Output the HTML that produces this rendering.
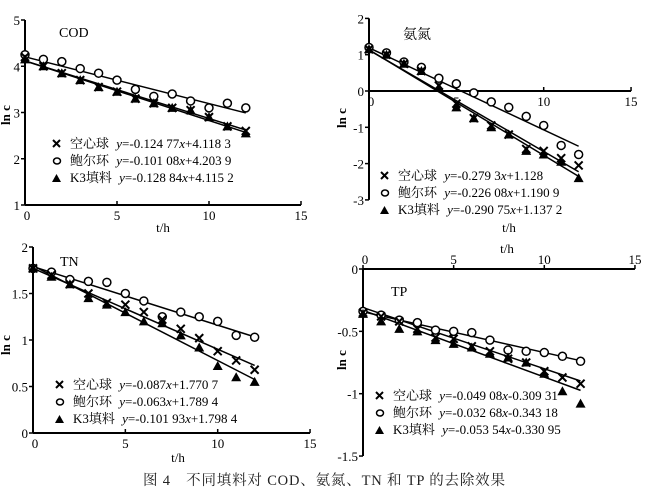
<!DOCTYPE html>
<html><head><meta charset="utf-8"><style>
html,body{margin:0;padding:0;background:#fff;}
svg{display:block;font-family:"Liberation Serif","Noto Serif CJK SC",serif;}
</style></head><body>
<svg id="s" width="645" height="495" viewBox="0 0 645 495" xmlns="http://www.w3.org/2000/svg">
<text x="324" y="485" font-size="14.5" text-anchor="middle" textLength="362" fill="#222">图 4　不同填料对 COD、氨氮、TN 和 TP 的去除效果</text>
</svg>
<script>
const S=document.getElementById('s');const NS='http://www.w3.org/2000/svg';
function el(t,a,txt){const e=document.createElementNS(NS,t);for(const k in a)e.setAttribute(k,a[k]);if(txt!==undefined)e.textContent=txt;S.appendChild(e);return e;}
function panel(p){
 const X=v=>p.x0+v*p.xs, Y=v=>p.yz-v*p.ys;
 el('line',{x1:p.x0,y1:Y(p.ymax),x2:p.x0,y2:Y(p.ymin),stroke:'#000','stroke-width':2});
 el('line',{x1:p.x0,y1:Y(p.xaxisAt),x2:X(15),y2:Y(p.xaxisAt),stroke:'#000','stroke-width':2});
 for(const t of p.yt){el('line',{x1:p.x0-4,y1:Y(t),x2:p.x0,y2:Y(t),stroke:'#000','stroke-width':1.5});
  el('text',{x:p.x0-5,y:Y(t)+5,'font-size':13,'text-anchor':'end'},String(t));}
 for(const t of [0,5,10,15]){const yy=Y(p.xaxisAt);
  el('line',{x1:X(t),y1:yy,x2:X(t),y2:yy-4,stroke:'#000','stroke-width':1.5});
  el('text',{x:X(t)+(t==0?2:0),y:p.top?yy-5:yy+15,'font-size':13,'text-anchor':'middle'},String(t));}
 for(const f of p.fits){el('line',{x1:X(0),y1:Y(f[1]),x2:X(12),y2:Y(f[0]*12+f[1]),stroke:'#000','stroke-width':1.5});}
 for(let i=0;i<13;i++){
  const x=X(i);
  let y=Y(p.o[i]);el('ellipse',{cx:x,cy:y,rx:4,ry:4,fill:'#fff',stroke:'#000','stroke-width':1.5});
  y=Y(p.t[i]);el('polygon',{points:`${x-5},${y+4} ${x+5},${y+4} ${x},${y-5}`,fill:'#000'});
  y=Y(p.c[i]);el('path',{d:`M${x-4},${y-4}L${x+4},${y+4}M${x-4},${y+4}L${x+4},${y-4}`,stroke:'#000','stroke-width':2});
 }
 el('text',{x:p.title[0],y:p.title[1],'font-size':14},p.title[2]);
 el('text',{x:p.tl[0],y:p.tl[1],'font-size':13,'text-anchor':'middle'},'t/h');
 el('text',{x:p.yl[0],y:p.yl[1],'font-size':13,'font-weight':'bold','text-anchor':'middle',transform:`rotate(-90 ${p.yl[0]} ${p.yl[1]})`},'ln c');
 const names=['空心球','鲍尔环','K3填料'];
 for(let k=0;k<3;k++){const lx=p.lg[0],ly=p.lg[1]+k*17;
  if(k==0)el('path',{d:`M${lx-3},${ly-8}L${lx+4},${ly-1}M${lx-3},${ly-1}L${lx+4},${ly-8}`,stroke:'#000','stroke-width':2});
  if(k==1)el('ellipse',{cx:lx+1,cy:ly-4,rx:3.5,ry:3,fill:'#fff',stroke:'#000','stroke-width':1.5});
  if(k==2)el('polygon',{points:`${lx-4},${ly} ${lx+5},${ly} ${lx+0.5},${ly-8}`,fill:'#000'});
  const t=el('text',{x:lx+14,y:ly,'font-size':13});
  t.innerHTML=`${names[k]}  <tspan font-style="italic" dx="4">y</tspan>=${p.eq[k][0]}<tspan font-style="italic">x</tspan>${p.eq[k][1]}`;
 }
}
panel({x0:25,xs:18.4,yz:251.25,ys:46.25,ymax:5,ymin:1,xaxisAt:1,yt:[1,2,3,4,5],
 fits:[[-0.12477,4.1183],[-0.10108,4.2039],[-0.12884,4.1152]],
 c:[4.2,4.0,3.85,3.7,3.55,3.45,3.3,3.2,3.1,3.05,2.9,2.7,2.6],
 o:[4.25,4.15,4.1,3.95,3.85,3.7,3.5,3.35,3.4,3.25,3.1,3.2,3.1],
 t:[4.15,4.0,3.85,3.7,3.55,3.45,3.3,3.2,3.1,3.05,2.9,2.7,2.55],
 title:[59,37,'COD'],tl:[163,232],yl:[10,115],lg:[56,148],
 eq:[['-0.124 77','+4.118 3'],['-0.101 08','+4.203 9'],['-0.128 84','+4.115 2']]});
panel({x0:369,xs:17.47,yz:91,ys:36.3,ymax:2,ymin:-3,xaxisAt:0,yt:[2,1,0,-1,-2,-3],
 fits:[[-0.2793,1.128],[-0.22608,1.1909],[-0.29075,1.1372]],
 c:[1.15,1.0,0.75,0.55,0.15,-0.35,-0.75,-0.95,-1.2,-1.6,-1.65,-1.85,-2.05],
 o:[1.2,1.05,0.8,0.65,0.35,0.2,-0.05,-0.3,-0.45,-0.7,-0.95,-1.5,-1.75],
 t:[1.15,1.0,0.75,0.55,0.1,-0.45,-0.75,-1.0,-1.2,-1.65,-1.75,-1.95,-2.4],
 title:[403,39,'氨氮'],tl:[509,232],yl:[346,118],lg:[384,180],
 eq:[['-0.279 3','+1.128'],['-0.226 08','+1.190 9'],['-0.290 75','+1.137 2']]});
panel({x0:33,xs:18.47,yz:433,ys:93,ymax:2,ymin:0,xaxisAt:0,yt:[0,0.5,1,1.5,2],
 fits:[[-0.087,1.7707],[-0.063,1.7894],[-0.10193,1.7984]],
 c:[1.77,1.7,1.6,1.5,1.4,1.38,1.3,1.22,1.12,1.02,0.88,0.78,0.68],
 o:[1.77,1.73,1.65,1.63,1.62,1.5,1.42,1.25,1.3,1.25,1.2,1.05,1.03],
 t:[1.77,1.68,1.6,1.45,1.38,1.3,1.2,1.18,1.05,0.92,0.72,0.6,0.55],
 title:[60,266,'TN'],tl:[178,462],yl:[10,345],lg:[59,389],
 eq:[['-0.087','+1.770 7'],['-0.063','+1.789 4'],['-0.101 93','+1.798 4']]});
panel({x0:363,xs:18.13,yz:269,ys:124.7,ymax:0,ymin:-1.5,xaxisAt:0,yt:[0,-0.5,-1,-1.5],top:true,
 fits:[[-0.04908,-0.30931],[-0.03268,-0.34318],[-0.05354,-0.33095]],
 c:[-0.35,-0.38,-0.42,-0.48,-0.55,-0.56,-0.62,-0.66,-0.72,-0.75,-0.82,-0.87,-0.92],
 o:[-0.34,-0.37,-0.41,-0.43,-0.49,-0.5,-0.51,-0.57,-0.65,-0.66,-0.67,-0.7,-0.74],
 t:[-0.36,-0.42,-0.48,-0.5,-0.57,-0.6,-0.63,-0.68,-0.71,-0.75,-0.84,-0.98,-1.08],
 title:[391,296,'TP'],tl:[507,253],yl:[346,360],lg:[379,400],
 eq:[['-0.049 08','-0.309 31'],['-0.032 68','-0.343 18'],['-0.053 54','-0.330 95']]});
</script>
</body></html>
